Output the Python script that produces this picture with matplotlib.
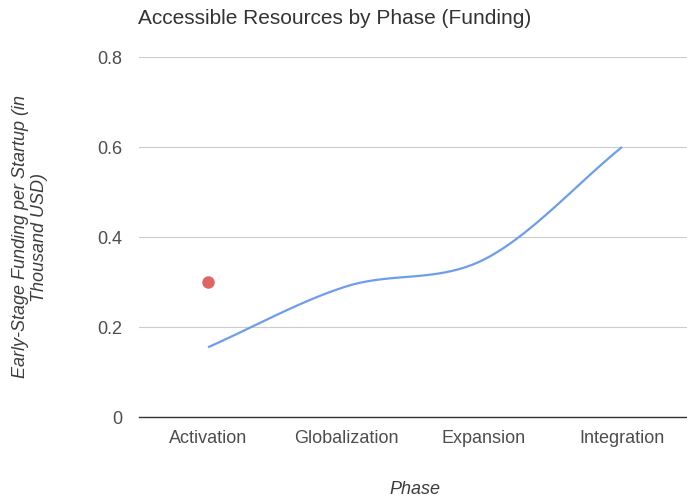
import matplotlib.pyplot as plt
import numpy as np

phases = ['Activation', 'Globalization', 'Expansion', 'Integration']
funding = [0.155, 0.29, 0.35, 0.60]
highlight_phase = 0
highlight_value = 0.30
y_ticks = [0, 0.2, 0.4, 0.6, 0.8]
y_tick_labels = ['0', '0.2', '0.4', '0.6', '0.8']

plt.rcParams['font.family'] = ['Liberation Sans', 'DejaVu Sans']


def smooth_curve(x, y, samples=40):
    # cubic Hermite through each point, Catmull-Rom style tangents
    x = np.asarray(x, dtype=float)
    y = np.asarray(y, dtype=float)
    n = len(x)
    m = np.zeros(n)
    for i in range(n):
        lo, hi = max(i - 1, 0), min(i + 1, n - 1)
        m[i] = (y[hi] - y[lo]) / (x[hi] - x[lo])
    xs, ys = [], []
    for i in range(n - 1):
        h = x[i + 1] - x[i]
        t = np.linspace(0, 1, samples)
        h00 = 2 * t**3 - 3 * t**2 + 1
        h10 = t**3 - 2 * t**2 + t
        h01 = -2 * t**3 + 3 * t**2
        h11 = t**3 - t**2
        xs.append(x[i] + t * h)
        ys.append(h00 * y[i] + h10 * h * m[i] + h01 * y[i + 1] + h11 * h * m[i + 1])
    return np.concatenate(xs), np.concatenate(ys)


fig = plt.figure(figsize=(6.87, 4.98), dpi=100)
ax = fig.add_axes([139 / 687, 81 / 498, 552 / 687, 360 / 498])

pos = np.arange(len(phases))
cx, cy = smooth_curve(pos, funding)
ax.plot(cx, cy, color='#6d9eeb', linewidth=1.6, solid_capstyle='butt', zorder=3)
ax.plot([pos[highlight_phase]], [highlight_value], 'o', color='#e06666',
        markersize=9, markeredgewidth=0, zorder=4)

ax.set_xlim(-0.5, len(phases) - 0.5)
ax.set_ylim(0, 0.8)
ax.set_yticks(y_ticks)
ax.set_yticklabels(y_tick_labels)
ax.set_xticks(pos)
ax.set_xticklabels(phases)
ax.tick_params(axis='y', length=0, pad=12, labelsize=13, labelcolor='#4d4d4d')
ax.tick_params(axis='x', length=0, pad=9, labelsize=13, labelcolor='#4d4d4d')

ax.grid(axis='y', color='#cccccc', linewidth=0.8)
ax.set_axisbelow(True)
for side in ['top', 'right', 'left']:
    ax.spines[side].set_visible(False)
ax.spines['bottom'].set_color('#333333')
ax.spines['bottom'].set_linewidth(1.0)

ax.set_xlabel('Phase', fontsize=13, style='italic', color='#3d3d3d')
ax.xaxis.set_label_coords(0.5, -(489 - 417) / 360)
ax.xaxis.label.set_va('center')
ax.set_ylabel('Early-Stage Funding per Startup (in\nThousand USD)', fontsize=13,
              style='italic', color='#3d3d3d', linespacing=1.1)
ax.yaxis.set_label_coords(-(139 - 30) / 552, 0.5)
ax.yaxis.label.set_va('center')

fig.text(138 / 687, 1 - 24 / 498, 'Accessible Resources by Phase (Funding)',
         fontsize=15, color='#333333', ha='left', va='baseline')

fig.savefig('out.png', dpi=100)
